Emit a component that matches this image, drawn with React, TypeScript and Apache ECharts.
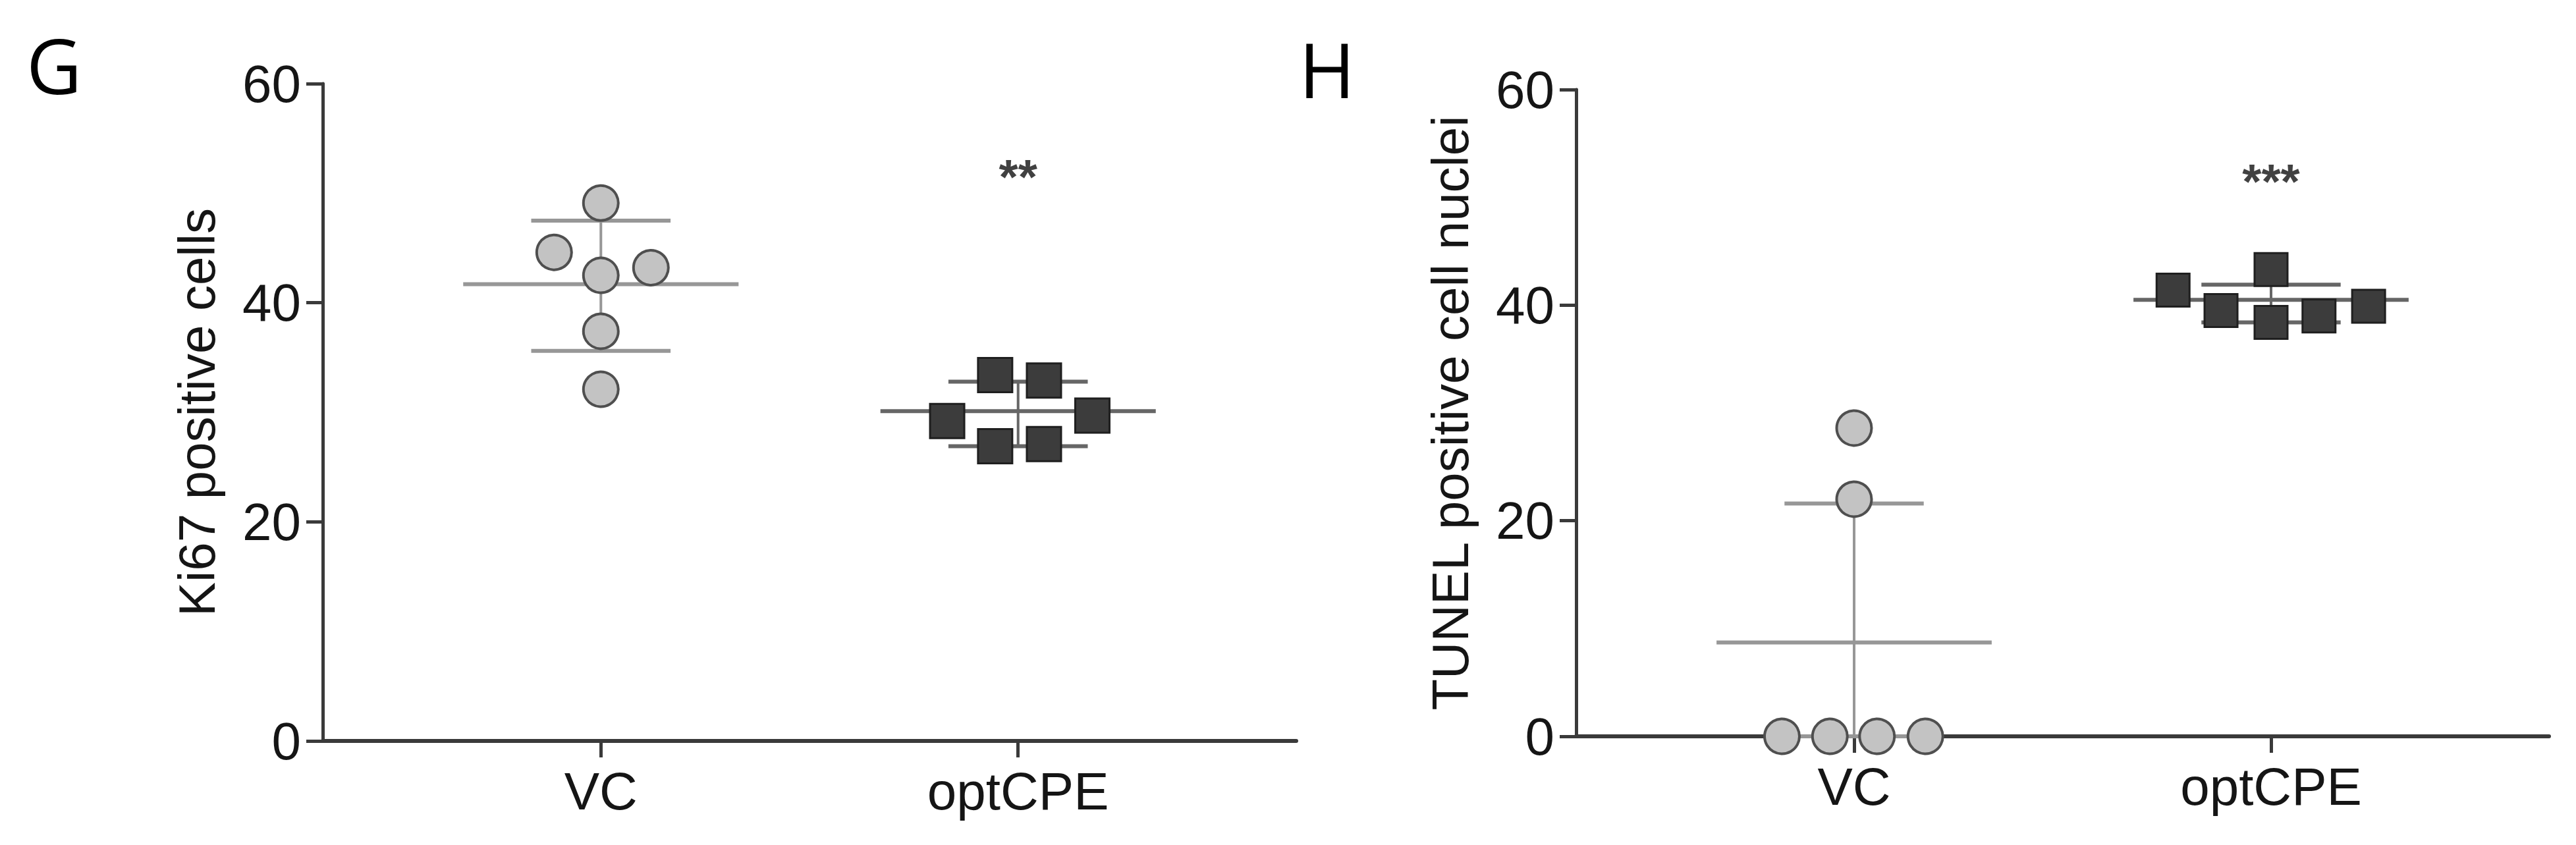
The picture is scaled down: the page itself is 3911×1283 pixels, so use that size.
import React, { useEffect, useRef } from "react";
import * as echarts from "echarts";

// ---------- data ----------
const categories = ["VC", "optCPE"];
const yMin = 0;
const yMax = 60;
const yInterval = 20;

// Panel G : Ki67 positive cells
const gVC = [49.1, 44.6, 42.5, 43.2, 37.4, 32.1];
const gVCJitter = [0, -0.112, 0, 0.12, 0, 0];
const gOpt = [33.4, 32.9, 29.2, 29.7, 26.9, 27.1];
const gOptJitter = [-0.055, 0.062, -0.17, 0.178, -0.055, 0.062];
const gMean = [41.7, 30.1];
const gSdHigh = [47.5, 32.8];
const gSdLow = [35.6, 26.9];
const gSig = ["", "**"];

// Panel H : TUNEL positive cell nuclei
const hVC = [28.6, 22.0, 0, 0, 0, 0];
const hVCJitter = [0, 0, -0.173, -0.058, 0.055, 0.171];
const hOpt = [41.4, 39.5, 43.3, 38.4, 39.0, 39.9];
const hOptJitter = [-0.235, -0.12, 0, 0, 0.115, 0.234];
const hMean = [8.7, 40.5];
const hSdHigh = [21.6, 41.9];
const hSdLow = [0, 38.4];
const hSig = ["", "***"];

const sigY = 51.5;

// ---------- styles ----------
const FONT = "'Liberation Sans', Arial, Helvetica, sans-serif";
const AXIS_COLOR = "#3a3a3a";
const TEXT_COLOR = "#151515";
const BAR_COLORS = ["#979797", "#666666"];
const MEAN_HALF = 0.33;
const CAP_HALF = 0.167;

function makeAxes(gridIndex: number, yName: string) {
  const xAxis = {
    type: "value",
    gridIndex,
    min: 1 / 3,
    max: 8 / 3,
    splitLine: { show: false },
    axisLine: { show: true, onZero: false, lineStyle: { color: AXIS_COLOR, width: 6 } },
    axisTick: {
      show: true,
      customValues: [1, 2],
      length: 25,
      lineStyle: { color: AXIS_COLOR, width: 5 },
    },
    axisLabel: {
      show: true,
      customValues: [1, 2],
      formatter: (v: number) => categories[Math.round(v) - 1] ?? "",
      fontSize: 80,
      fontFamily: FONT,
      color: TEXT_COLOR,
      margin: 36,
    },
  };
  const yAxis = {
    type: "value",
    gridIndex,
    min: yMin,
    max: yMax,
    interval: yInterval,
    name: yName,
    nameLocation: "middle",
    nameGap: 152,
    nameTextStyle: { fontSize: 78, fontFamily: FONT, color: TEXT_COLOR },
    splitLine: { show: false },
    axisLine: { show: true, lineStyle: { color: AXIS_COLOR, width: 5 } },
    axisTick: { show: true, length: 25, lineStyle: { color: AXIS_COLOR, width: 5 } },
    axisLabel: { fontSize: 80, fontFamily: FONT, color: TEXT_COLOR, margin: 33 },
  };
  return { xAxis, yAxis };
}

function errorBarSeries(idx: number, mean: number[], low: number[], high: number[]) {
  return {
    type: "custom",
    xAxisIndex: idx,
    yAxisIndex: idx,
    z: 2,
    silent: true,
    encode: { x: 0, y: [1, 2, 3] },
    data: categories.map((_, i) => [i + 1, mean[i], low[i], high[i]]),
    renderItem: (params: any, api: any) => {
      const cat = api.value(0);
      const m = api.value(1);
      const lo = api.value(2);
      const hi = api.value(3);
      const color = BAR_COLORS[params.dataIndex];
      const seg = (x1: number, y1: number, x2: number, y2: number, w: number) => {
        const a = api.coord([x1, y1]);
        const b = api.coord([x2, y2]);
        return {
          type: "line",
          shape: { x1: a[0], y1: a[1], x2: b[0], y2: b[1] },
          style: { stroke: color, lineWidth: w, lineCap: "butt" },
        };
      };
      return {
        type: "group",
        children: [
          seg(cat, lo, cat, hi, 4),
          seg(cat - MEAN_HALF, m, cat + MEAN_HALF, m, 6),
          seg(cat - CAP_HALF, hi, cat + CAP_HALF, hi, 6),
          seg(cat - CAP_HALF, lo, cat + CAP_HALF, lo, 6),
        ],
      };
    },
  };
}

function pointSeries(
  idx: number,
  values: number[],
  jitter: number[],
  catPos: number,
  symbol: string,
  size: number,
  fill: string,
  border: string,
  bw: number
) {
  return {
    type: "scatter",
    xAxisIndex: idx,
    yAxisIndex: idx,
    z: 3,
    symbol,
    symbolSize: size,
    itemStyle: { color: fill, borderColor: border, borderWidth: bw, opacity: 1 },
    data: values.map((v, i) => [catPos + jitter[i], v]),
  };
}

function sigSeries(idx: number, sig: string[]) {
  return {
    type: "scatter",
    xAxisIndex: idx,
    yAxisIndex: idx,
    z: 4,
    symbolSize: 0,
    itemStyle: { color: "transparent" },
    data: categories.map((_, i) => ({
      value: [i + 1, sigY],
      label: {
        show: sig[i] !== "",
        formatter: sig[i],
        position: "inside",
        fontSize: 75,
        fontWeight: "bold",
        fontFamily: FONT,
        color: "#111",
      },
    })),
  };
}

export default function App() {
  const ref = useRef<HTMLDivElement>(null);

  useEffect(() => {
    if (!ref.current) return;
    const chart = echarts.init(ref.current, undefined, { renderer: "svg" });
    const g = makeAxes(0, "Ki67 positive cells");
    const h = makeAxes(1, "TUNEL positive cell nuclei");

    chart.setOption({
      animation: false,
      backgroundColor: "#ffffff",
      grid: [
        { left: 490, top: 127, width: 1478, height: 998 },
        { left: 2393, top: 136, width: 1477, height: 982 },
      ],
      xAxis: [g.xAxis, h.xAxis],
      yAxis: [g.yAxis, h.yAxis],
      graphic: [
        {
          type: "text",
          left: 40,
          top: 40,
          style: { text: "G", fontSize: 116, fontFamily: "'Open Sans', 'Noto Sans', sans-serif", fill: "#000" },
        },
        {
          type: "text",
          left: 1972,
          top: 46,
          style: { text: "H", fontSize: 116, fontFamily: "'Open Sans', 'Noto Sans', sans-serif", fill: "#000" },
        },
      ],
      series: [
        errorBarSeries(0, gMean, gSdLow, gSdHigh),
        pointSeries(0, gVC, gVCJitter, 1, "circle", 53, "#c3c3c3", "#4f4f4f", 4),
        pointSeries(0, gOpt, gOptJitter, 2, "rect", 52, "#3c3c3c", "#1f1f1f", 3),
        sigSeries(0, gSig),
        errorBarSeries(1, hMean, hSdLow, hSdHigh),
        pointSeries(1, hVC, hVCJitter, 1, "circle", 53, "#c3c3c3", "#4f4f4f", 4),
        pointSeries(1, hOpt, hOptJitter, 2, "rect", 50, "#3c3c3c", "#1f1f1f", 3),
        sigSeries(1, hSig),
      ],
    });
    return () => chart.dispose();
  }, []);

  return (
    <div
      ref={ref}
      style={{ position: "absolute", left: 0, top: 0, width: 3911, height: 1283, background: "#fff" }}
    />
  );
}
